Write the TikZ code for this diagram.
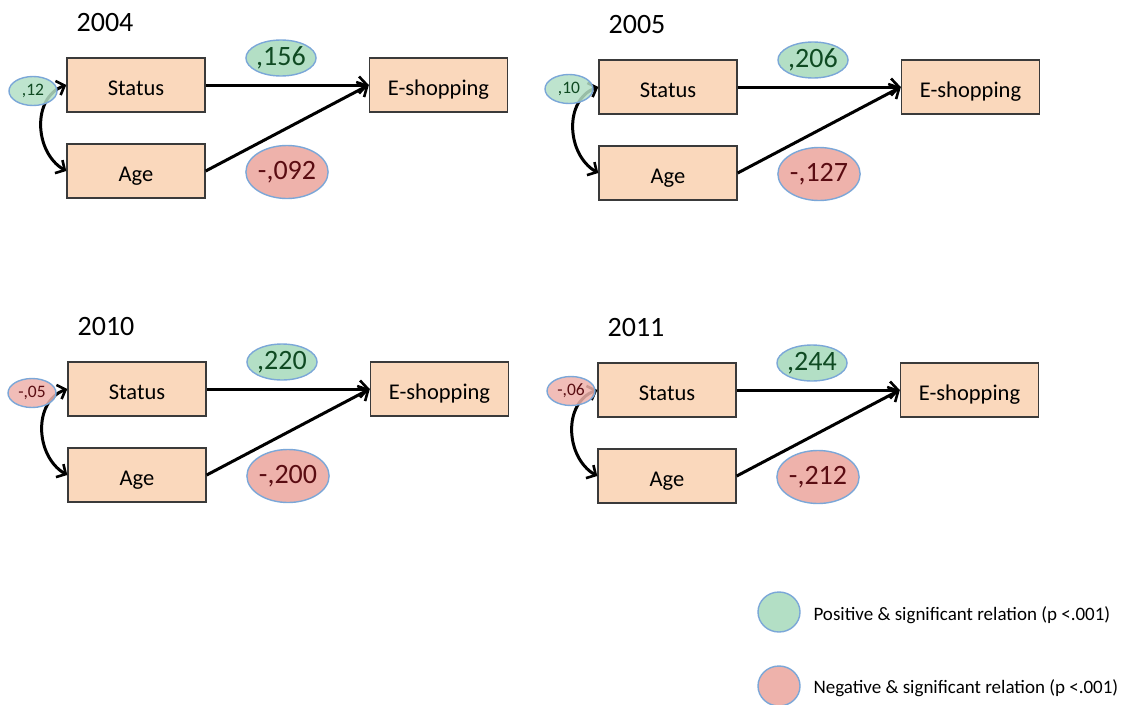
\documentclass[tikz,border=0pt]{standalone}
\usepackage{fontspec}
\setmainfont{Carlito}
\usetikzlibrary{shapes.geometric,arrows.meta}
\definecolor{boxfill}{HTML}{FAD8BC}
\definecolor{boxline}{HTML}{3A3A3A}
\definecolor{posfill}{HTML}{B3DFC5}
\definecolor{negfill}{HTML}{EEB2AB}
\definecolor{ellline}{HTML}{7BA7D8}
\definecolor{postext}{HTML}{0F4A22}
\definecolor{negtext}{HTML}{5A0C12}
\tikzset{
  varbox/.style={draw=boxline, line width=1.4pt, fill=boxfill, minimum width=138pt, minimum height=54pt, inner sep=0pt, text height=20pt, text depth=0pt, font=\fontsize{22.5}{25}\selectfont},
  coef/.style={ellipse, draw=ellline, line width=1.4pt, inner sep=0pt},
  poscoef/.style={coef, fill=posfill, text=postext},
  negcoef/.style={coef, fill=negfill, text=negtext},
  bigcoef/.style={font=\fontsize{28}{30}\selectfont},
  smallcoef/.style={font=\fontsize{17.5}{19}\selectfont, fill opacity=0.85, text opacity=1, minimum width=48pt, minimum height=29pt},
  pathline/.style={line width=3pt, -{Straight Barb[length=8pt,width=17pt,line width=2.6pt]}},
  corr/.style={line width=3pt, {Straight Barb[length=7pt,width=15pt,line width=2.6pt]}-{Straight Barb[length=7pt,width=15pt,line width=2.6pt]}},
  yeartitle/.style={font=\fontsize{28}{30}\selectfont},
  legtext/.style={anchor=west, font=\fontsize{19}{21}\selectfont},
  legdot/.style={coef, minimum width=42pt, minimum height=40pt}
}
\newcommand{\mypanel}[8]{%
  \begin{scope}[shift={(#1,#2)}, name prefix=y#3-]
    \node[yeartitle] (title) at (105,23) {#3};
    \node[varbox] (status) at (136,85) {Status};
    \node[varbox] (age) at (136,171) {Age};
    \node[varbox] (eshop) at (438.5,85) {E-shopping};
    \draw[pathline] (status.east) -- (eshop.west);
    \draw[pathline] (age.east) -- (eshop.west);
    \draw[corr] (status.west) to[out=200,in=150,looseness=1.1] (age.west);
    \node[poscoef, bigcoef, minimum width=68pt, minimum height=36pt] (c1) at (281,58) {#4};
    \node[negcoef, bigcoef, minimum width=80pt, minimum height=53pt] (c2) at (287,172) {#5};
    \node[#7, smallcoef] (c3) at (#6) {#8};
  \end{scope}%
}
\begin{document}
\begin{tikzpicture}[x=1pt,y=-1pt]
  \useasboundingbox (0,0) rectangle (1123,704);
  \mypanel{0}{0}{2004}{,156}{-,092}{33,91}{poscoef}{,12}
  \mypanel{532}{2}{2005}{,206}{-,127}{37,87}{poscoef}{,10}
  \mypanel{1}{304}{2010}{,220}{-,200}{31,89}{negcoef}{-,05}
  \mypanel{531}{305}{2011}{,244}{-,212}{40,86}{negcoef}{-,06}
  \node[legdot, fill=posfill] (legpos) at (779,612) {};
  \node[legtext] (legpostext) at (810,615) {Positive \& significant relation (p <.001)};
  \node[legdot, fill=negfill] (legneg) at (779,686) {};
  \node[legtext] (legnegtext) at (810,688) {Negative \& significant relation (p <.001)};
\end{tikzpicture}
\end{document}
